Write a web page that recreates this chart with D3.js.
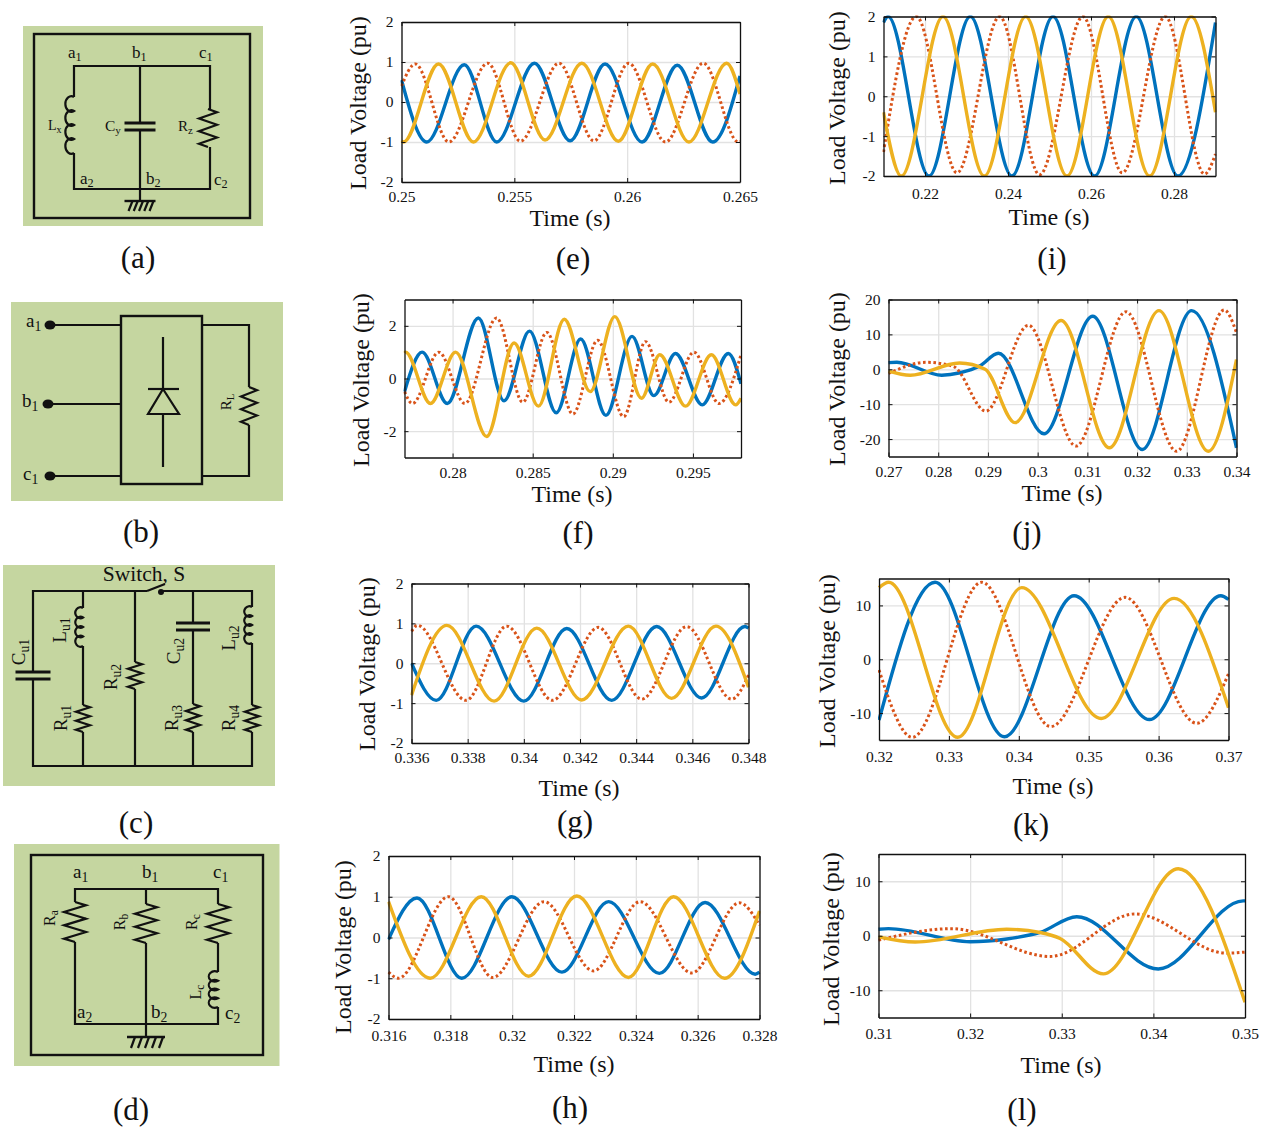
<!DOCTYPE html>
<html>
<head>
<meta charset="utf-8">
<script src="https://cdn.jsdelivr.net/npm/d3@7"></script>
<style>
  html, body { margin: 0; background: #fff; }
  text { font-family: "Liberation Serif", "Times New Roman", serif; fill: #111; }
</style>
</head>
<body>
<svg id="fig" width="1271" height="1129"></svg>
<script>
// every series is [time, voltage] at its turning points
const eBlue = [[.25,.55],[.25112,-1],[.25278,.93],[.25422,-1],[.25589,.97],[.25747,-.97],[.25902,.95],[.26066,-1],[.26222,.92],[.26379,-1],[.265,.65]]
const eRed = [[.25,.4],[.25061,.95],[.2521,-1],[.25382,.97],[.25527,-.98],[.25698,.97],[.25853,-.97],[.26007,.97],[.2617,-1],[.26337,.97],[.26493,-1],[.265,-.98]]
const eGold = [[.25,-.97],[.25009,-1],[.25164,.95],[.25319,-1],[.25484,.98],[.25636,-.95],[.25799,.97],[.25961,-.98],[.26113,.95],[.26274,-1],[.26441,.97],[.265,.2]]

const fBlue = [[.277,-.5],[.2781,1],[.27967,-.95],[.28161,2.3],[.28321,-.85],[.2848,1.8],[.28647,-1.3],[.28799,1.5],[.28957,-1.4],[.2912,1.6],[.29256,-.65],[.29391,.95],[.29558,-1],[.29721,.95],[.298,-.2]]
const fRed = [[.277,-.5],[.2775,-.95],[.27914,1],[.28077,-.95],[.28275,2.3],[.28438,-.9],[.28588,1.75],[.28751,-1.35],[.28905,1.45],[.29068,-1.45],[.29204,1.4],[.2935,-.9],[.29506,1],[.29663,-.95],[.298,.9]]
const fGold = [[.277,.97],[.27706,1],[.27862,-.95],[.28019,1],[.28213,-2.2],[.28384,1.35],[.28536,-1.05],[.28697,2.25],[.28859,-.5],[.29012,2.35],[.29179,-.75],[.29293,.9],[.29454,-1.05],[.29615,.9],[.29767,-1],[.298,-.75]]

const gBlue = [[.336,0],[.33688,-.93],[.3383,.93],[.34,-.95],[.34153,.87],[.34313,-.93],[.34473,.92],[.34633,-.87],[.34787,.92],[.348,.88]]
const gRed = [[.336,.8],[.33621,.95],[.33794,-.93],[.33939,.93],[.34102,-.93],[.34265,.9],[.3442,-.9],[.3458,.92],[.3474,-.9],[.348,-.3]]
const gGold = [[.336,-.8],[.33726,.95],[.33894,-.95],[.34046,.88],[.34206,-.92],[.34372,.93],[.34526,-.88],[.34684,.93],[.348,-.6]]

const hBlue = [[.316,-.05],[.31692,.97],[.31837,-1],[.31999,1],[.32161,-.85],[.32312,.88],[.32476,-.88],[.32624,.86],[.32786,-.9],[.328,-.85]]
const hRed = [[.316,-.85],[.31632,-1],[.31794,1],[.31937,-.98],[.32103,.88],[.32263,-.82],[.32414,.88],[.32581,-.87],[.32735,.85],[.328,.3]]
const hGold = [[.316,.88],[.31735,-1],[.319,1],[.32053,-.95],[.32209,1.02],[.32376,-.98],[.32522,1],[.32687,-1],[.328,.65]]

const iBlue = [[.21,1.85],[.21109,2],[.22096,-2],[.23092,2],[.24096,-2],[.25084,2],[.26087,-2],[.27091,2],[.28095,-2],[.29,1.85]]
const iRed = [[.21,-1.4],[.21791,2],[.22771,-1.92],[.23799,2],[.24762,-1.97],[.25806,2],[.26754,-1.92],[.2779,2],[.28737,-1.95],[.29,-1.45]]
const iGold = [[.21,-.4],[.2143,-2],[.22434,2],[.23429,-2],[.24425,2],[.25421,-2],[.26417,2],[.27412,-2],[.28416,2],[.29,-.4]]

const jBlue = [[.27,1.9],[.27168,2],[.28072,-1.7],[.28441,-1],[.28843,1],[.29211,4.6],[.30129,-18.5],[.31107,15.2],[.32105,-23],[.33097,16.8],[.34,-22.5]]
const jRed = [[.27,-1.2],[.27757,2],[.28307,.8],[.28956,-12],[.29814,12.6],[.30772,-22],[.31777,16.5],[.32796,-23.5],[.33754,17],[.34,10.5]]
const jGold = [[.27,-.5],[.27436,-1.7],[.28427,1.8],[.28943,0],[.29546,-15.3],[.30471,14],[.31442,-22.5],[.3244,16.8],[.33432,-23.5],[.34,2.8]]

const kBlue = [[.32,-11.3],[.32802,14.3],[.33794,-14.4],[.34791,11.8],[.35869,-11.2],[.3689,11.8],[.37,11.1]]
const kRed = [[.32,-2],[.32477,-14.5],[.3347,14.3],[.34457,-12.5],[.35521,11.5],[.36547,-11.9],[.37,-2.7]]
const kGold = [[.32,13.3],[.32138,14.3],[.33126,-14.5],[.34042,13.3],[.35178,-11],[.36222,11.3],[.37,-9]]

const lBlue = [[.31,1.2],[.31109,1.3],[.32,-1.1],[.324,-.6],[.32763,.6],[.33164,3.5],[.34054,-6.1],[.34981,6.4],[.35,6.4]]
const lRed = [[.31,-.8],[.318,1.3],[.32873,-3.8],[.338,4],[.348,-3.2],[.35,-3]]
const lGold = [[.31,-.2],[.314,-1.15],[.324,1.2],[.32763,.6],[.32982,-.5],[.33454,-7],[.34272,12.3],[.35,-12.2]]

const yTicksUnit = [-2, -1, 0, 1, 2]
const yTicksWide = [-2, 0, 2]
const yTicksTens = [-20, -10, 0, 10, 20]
const yTicksK = [-10, 0, 10]

const xTicksE = [.25, .255, .26, .265]
const xTicksF = [.28, .285, .29, .295]
const xTicksG = [.336, .338, .34, .342, .344, .346, .348]
const xTicksH = [.316, .318, .32, .322, .324, .326, .328]
const xTicksI = [.22, .24, .26, .28]
const xTicksJ = [.27, .28, .29, .3, .31, .32, .33, .34]
const xTicksK = [.32, .33, .34, .35, .36, .37]
const xTicksL = [.31, .32, .33, .34, .35]

const blue = '#0072BD'
const red = '#D95319'
const gold = '#EDB120'
const ink = '#111'
const green = '#c5d6a0'

let svg = d3.select('#fig')

// 画图面板
let panels = [
  {name: 'e', box: [401.5, 22, 740, 182], xd: [.25, .265], yd: [-2, 2], xt: xTicksE, yt: yTicksUnit, s: [eBlue, eRed, eGold], tickY: 202, xl: [570, 226], yl: [366, 103], tag: [573, 269]},
  {name: 'f', box: [404.5, 299.5, 741, 457.5], xd: [.277, .298], yd: [-3, 3], xt: xTicksF, yt: yTicksWide, s: [fBlue, fRed, fGold], tickY: 478, xl: [572, 502], yl: [369, 380], tag: [578, 543]},
  {name: 'g', box: [411.5, 583.5, 748.5, 743], xd: [.336, .348], yd: [-2, 2], xt: xTicksG, yt: yTicksUnit, s: [gBlue, gRed, gGold], tickY: 763, xl: [579, 796], yl: [375, 664], tag: [575, 832]},
  {name: 'h', box: [388.5, 856, 759.5, 1019], xd: [.316, .328], yd: [-2, 2], xt: xTicksH, yt: yTicksUnit, s: [hBlue, hRed, hGold], tickY: 1041, xl: [574, 1072], yl: [351, 947], tag: [570, 1118]},
  {name: 'i', box: [883.5, 16.5, 1215.5, 176], xd: [.21, .29], yd: [-2, 2], xt: xTicksI, yt: yTicksUnit, s: [iBlue, iRed, iGold], tickY: 199, xl: [1049, 225], yl: [845, 98], tag: [1052, 269]},
  {name: 'j', box: [888.5, 299.5, 1236.5, 456.5], xd: [.27, .34], yd: [-25, 20], xt: xTicksJ, yt: yTicksTens, s: [jBlue, jRed, jGold], tickY: 477, xl: [1062, 501], yl: [845, 379], tag: [1027, 543]},
  {name: 'k', box: [879, 578.5, 1228.5, 740], xd: [.32, .37], yd: [-15, 15], xt: xTicksK, yt: yTicksK, s: [kBlue, kRed, kGold], tickY: 762, xl: [1053, 794], yl: [835, 661], tag: [1031, 835]},
  {name: 'l', box: [878.5, 854, 1245, 1017.5], xd: [.31, .35], yd: [-15, 15], xt: xTicksL, yt: yTicksK, s: [lBlue, lRed, lGold], tickY: 1039, xl: [1061, 1073], yl: [839, 939], tag: [1022, 1120]}
]

panels.forEach(p => {
  let [x0, y0, x1, y1] = p.box
  let w = x1 - x0
  let h = y1 - y0
  let x = d3.scaleLinear().domain(p.xd).range([x0, x1])
  let y = d3.scaleLinear().domain(p.yd).range([y1, y0])
  let g = svg.append('g').attr('class', 'panel-' + p.name)

  svg.append('clipPath').attr('id', 'clip-' + p.name)
    .append('rect').attr('x', x0 - 1).attr('y', y0 - 1).attr('width', w + 2).attr('height', h + 2)

  // 网格
  let gridX = g.append('g').attr('transform', `translate(0,${y1})`)
    .call(d3.axisBottom(x).tickValues(p.xt).tickSize(-h).tickFormat(''))
  let gridY = g.append('g').attr('transform', `translate(${x0},0)`)
    .call(d3.axisLeft(y).tickValues(p.yt).tickSize(-w).tickFormat(''))
  ;[gridX, gridY].forEach(a => {
    a.select('.domain').remove()
    a.selectAll('line').attr('stroke', '#e2e2e2').attr('stroke-width', 1.3)
  })

  // 曲线
  let line = d3.line().x(d => x(d[0])).y(d => y(d[1])).curve(d3.curveMonotoneX)
  let plot = g.append('g').attr('clip-path', `url(#clip-${p.name})`)
  plot.append('path').datum(p.s[0]).attr('d', line).attr('fill', 'none').attr('stroke', blue).attr('stroke-width', 3.4)
  plot.append('path').datum(p.s[1]).attr('d', line).attr('fill', 'none').attr('stroke', red).attr('stroke-width', 3).attr('stroke-dasharray', '2.6 2.6')
  plot.append('path').datum(p.s[2]).attr('d', line).attr('fill', 'none').attr('stroke', gold).attr('stroke-width', 3.4)

  // 坐标轴，刻度朝内
  let bottom = g.append('g').attr('transform', `translate(0,${y1})`)
    .call(d3.axisBottom(x).tickValues(p.xt).tickSizeInner(-4).tickSizeOuter(0).tickFormat(d => String(d)))
  bottom.selectAll('text').attr('y', p.tickY - y1).attr('dy', 0)
  let left = g.append('g').attr('transform', `translate(${x0},0)`)
    .call(d3.axisLeft(y).tickValues(p.yt).tickSizeInner(-4).tickSizeOuter(0).tickPadding(8).tickFormat(d => String(d)))
  let top = g.append('g').attr('transform', `translate(0,${y0})`)
    .call(d3.axisTop(x).tickValues(p.xt).tickSizeInner(-4).tickSizeOuter(0).tickFormat(''))
  let right = g.append('g').attr('transform', `translate(${x1},0)`)
    .call(d3.axisRight(y).tickValues(p.yt).tickSizeInner(-4).tickSizeOuter(0).tickFormat(''))
  ;[bottom, left, top, right].forEach(a => {
    a.selectAll('.domain').attr('stroke', ink).attr('stroke-width', 1.3)
    a.selectAll('line').attr('stroke', ink).attr('stroke-width', 1)
    a.selectAll('text').attr('font-size', 15.5).attr('font-family', '"Liberation Serif", serif').attr('fill', ink)
  })

  g.append('text').attr('x', p.xl[0]).attr('y', p.xl[1]).attr('text-anchor', 'middle')
    .attr('font-size', 24).text('Time (s)')
  g.append('text').attr('transform', `translate(${p.yl[0]},${p.yl[1]}) rotate(-90)`)
    .attr('text-anchor', 'middle').attr('font-size', 24).text('Load Voltage (pu)')
  tag('(' + p.name + ')', p.tag[0], p.tag[1])
})

// 面板标号
function tag (t, x, y) {
  svg.append('text').attr('x', x).attr('y', y).attr('text-anchor', 'middle')
    .attr('font-size', 31).text(t)
}

// 电路图工具
function wire (c, pts) {
  c.append('path').attr('d', d3.line()(pts)).attr('fill', 'none')
    .attr('stroke', ink).attr('stroke-width', 2.2).attr('stroke-linejoin', 'miter')
}

// 竖直电阻：折线
function resistor (c, x, y0, y1, amp, n = 3) {
  let pts = [[x, y0]]
  let step = (y1 - y0) / (n * 2)
  for (let i = 0; i < n * 2; i++) {
    pts.push([x + (i % 2 === 0 ? amp : -amp), y0 + step * (i + .5)])
  }
  pts.push([x, y1])
  wire(c, pts)
}

// 竖直电感：一串半圆，side=-1 鼓向左
function coil (c, x, y0, y1, rx, n = 4, side = -1) {
  let ry = (y1 - y0) / (n * 2)
  let d = `M${x},${y0}`
  for (let i = 0; i < n; i++) {
    d += `a${rx},${ry + .8} 0 1 ${side < 0 ? 0 : 1} 0,${ry * 2}`
  }
  c.append('path').attr('d', d).attr('fill', 'none').attr('stroke', ink).attr('stroke-width', 2.2)
}

function capH (c, x, y0, y1, half) {
  wire(c, [[x - half, y0], [x + half, y0]])
  wire(c, [[x - half, y1], [x + half, y1]])
  c.selectAll('path').filter(function (d, i, n) { return i >= n.length - 2 }).attr('stroke-width', 3)
}

function ground (c, x, y, half, n, len) {
  c.append('path').attr('d', `M${x - half},${y}H${x + half}`).attr('stroke', ink).attr('stroke-width', 2.4)
  for (let i = 0; i < n; i++) {
    let gx = x - half + 8 + i * (2 * half - 10) / (n - 1)
    wire(c, [[gx, y], [gx - 4, y + len]])
  }
}

// 带下标的文字
function label (c, main, sub, x, y, size, rot = false) {
  let t = c.append('text').attr('font-size', size)
  if (rot) {
    t.attr('transform', `translate(${x},${y}) rotate(-90)`).attr('text-anchor', 'middle')
  } else {
    t.attr('x', x).attr('y', y)
  }
  t.append('tspan').text(main)
  t.append('tspan').attr('font-size', size * .72).attr('dy', size * .2).text(sub)
}

function greenBox (x0, y0, x1, y1) {
  let c = svg.append('g')
  c.append('rect').attr('x', x0).attr('y', y0).attr('width', x1 - x0).attr('height', y1 - y0).attr('fill', green)
  return c
}

// (a)
let ca = greenBox(23, 26, 263, 226)
ca.append('rect').attr('x', 34).attr('y', 34).attr('width', 216).attr('height', 184)
  .attr('fill', 'none').attr('stroke', ink).attr('stroke-width', 2.4)
wire(ca, [[74, 97], [74, 66], [210, 66], [210, 109]])
wire(ca, [[74, 153], [74, 189], [210, 189], [210, 147]])
wire(ca, [[140, 66], [140, 123]])
wire(ca, [[140, 130], [140, 201]])
coil(ca, 74, 97, 153, 6)
resistor(ca, 208, 109, 147, 9)
capH(ca, 140, 123, 130, 15.5)
ground(ca, 140, 201, 15.5, 5, 10)
label(ca, 'a', '1', 68, 58, 17)
label(ca, 'b', '1', 132, 58, 17)
label(ca, 'c', '1', 199, 58, 17)
label(ca, 'a', '2', 80, 184, 17)
label(ca, 'b', '2', 146, 184, 17)
label(ca, 'c', '2', 214, 185, 17)
label(ca, 'L', 'x', 48, 130, 14)
label(ca, 'C', 'y', 105, 131, 15.5)
label(ca, 'R', 'z', 178, 131, 15)
tag('(a)', 138, 268)

// (b)
let cb = greenBox(11, 302, 283, 501)
cb.append('rect').attr('x', 121).attr('y', 316).attr('width', 81).attr('height', 168)
  .attr('fill', 'none').attr('stroke', ink).attr('stroke-width', 2.4)
wire(cb, [[50, 325], [121, 325]])
wire(cb, [[48, 404], [121, 404]])
wire(cb, [[50, 476], [121, 476]])
cb.selectAll('ellipse').data([[50, 325], [48, 404], [50, 476]]).join('ellipse')
  .attr('cx', d => d[0]).attr('cy', d => d[1]).attr('rx', 5.5).attr('ry', 4.5).attr('fill', ink)
wire(cb, [[202, 325], [249, 325], [249, 387]])
wire(cb, [[202, 476], [249, 476], [249, 425]])
resistor(cb, 249, 387, 425, 8)
wire(cb, [[163, 337], [163, 389]])
wire(cb, [[148, 389], [179, 389]])
wire(cb, [[163, 389], [148, 414], [179, 414], [163, 389]])
wire(cb, [[163, 414], [163, 467]])
label(cb, 'a', '1', 26, 327, 19)
label(cb, 'b', '1', 22, 407, 19)
label(cb, 'c', '1', 23, 480, 19)
label(cb, 'R', 'L', 231, 402, 15, true)
tag('(b)', 141, 542)

// (c)
let cc = greenBox(3, 565, 275, 786)
wire(cc, [[33, 672], [33, 591], [147, 591]])
wire(cc, [[147, 591], [165, 584]])
cc.append('circle').attr('cx', 161).attr('cy', 592).attr('r', 3).attr('fill', ink)
wire(cc, [[161, 591], [252, 591], [252, 607]])
wire(cc, [[33, 679], [33, 766], [252, 766], [252, 732]])
capH(cc, 33, 672, 679, 17.5)
wire(cc, [[83, 591], [83, 608]])
coil(cc, 83, 608, 646, 5)
wire(cc, [[83, 646], [83, 705]])
resistor(cc, 83, 705, 732, 7)
wire(cc, [[83, 732], [83, 766]])
wire(cc, [[135, 591], [135, 662]])
resistor(cc, 135, 662, 689, 7)
wire(cc, [[135, 689], [135, 766]])
wire(cc, [[193, 591], [193, 623]])
capH(cc, 193, 623, 630, 17)
wire(cc, [[193, 630], [193, 704]])
resistor(cc, 193, 704, 732, 7)
wire(cc, [[193, 732], [193, 766]])
coil(cc, 252, 607, 643, 5)
wire(cc, [[252, 643], [252, 705]])
resistor(cc, 252, 705, 732, 7)
cc.append('text').attr('x', 144).attr('y', 581).attr('text-anchor', 'middle').attr('font-size', 21.5).text('Switch, S')
label(cc, 'C', 'u1', 25, 652, 19, true)
label(cc, 'L', 'u1', 66, 630, 19, true)
label(cc, 'R', 'u2', 117, 677, 19, true)
label(cc, 'R', 'u1', 67, 718, 19, true)
label(cc, 'C', 'u2', 180, 651, 19, true)
label(cc, 'L', 'u2', 235, 638, 19, true)
label(cc, 'R', 'u3', 178, 718, 19, true)
label(cc, 'R', 'u4', 235, 718, 19, true)
tag('(c)', 136, 833)

// (d)
let cd = greenBox(14, 844, 279.5, 1066)
cd.append('rect').attr('x', 31).attr('y', 855).attr('width', 232).attr('height', 200)
  .attr('fill', 'none').attr('stroke', ink).attr('stroke-width', 2.4)
wire(cd, [[75, 902], [75, 889], [218, 889], [218, 904]])
resistor(cd, 75, 902, 942, 11)
wire(cd, [[75, 942], [75, 1024], [218, 1024], [218, 1007]])
wire(cd, [[146, 889], [146, 904]])
resistor(cd, 146, 904, 943, 11)
wire(cd, [[146, 943], [146, 1037]])
resistor(cd, 218, 904, 943, 11)
wire(cd, [[218, 943], [218, 972]])
coil(cd, 218, 972, 1007, 6)
ground(cd, 146, 1037, 19, 5, 11)
label(cd, 'a', '1', 73, 878, 19)
label(cd, 'b', '1', 142, 878, 19)
label(cd, 'c', '1', 213, 878, 19)
label(cd, 'a', '2', 77, 1018, 19)
label(cd, 'b', '2', 151, 1018, 19)
label(cd, 'c', '2', 225, 1019, 19)
label(cd, 'R', 'a', 55, 918, 16, true)
label(cd, 'R', 'b', 125, 922, 16, true)
label(cd, 'R', 'c', 197, 922, 16, true)
label(cd, 'L', 'c', 201, 992, 16, true)
tag('(d)', 131, 1120)
</script>
</body>
</html>
